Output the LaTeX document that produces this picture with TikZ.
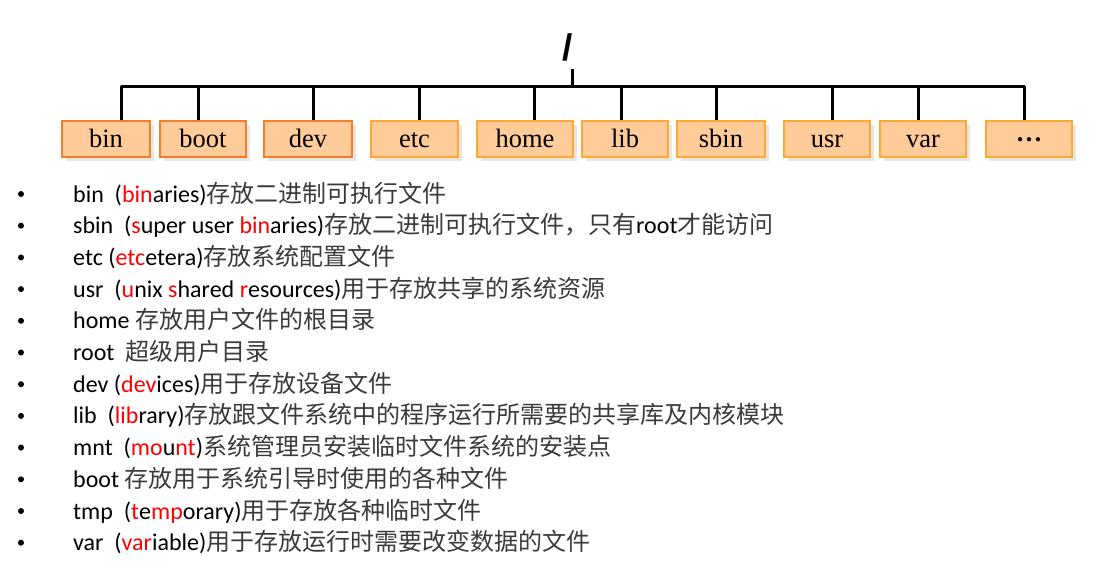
\documentclass[tikz,border=0pt]{standalone}
\usepackage{fontspec}
\newfontfamily\lat{Carlito}
\newfontfamily\cjk{Noto Sans CJK SC}
\newfontfamily\tms{Liberation Serif}
\newfontfamily\ari{Liberation Sans}
\usetikzlibrary{shadows}
\definecolor{boxfill}{HTML}{FFCC99}
\definecolor{edgeA}{HTML}{F47C2A}
\definecolor{edgeB}{HTML}{FFA733}
\definecolor{cjkgray}{HTML}{3A3A3A}
\definecolor{hl}{HTML}{FF0000}
\definecolor{shade}{HTML}{E6E6DE}
\newcommand\rd[1]{\textcolor{hl}{#1}}
\newcommand\zh[1]{{\cjk\color{cjkgray}#1}}
\begin{document}
\begin{tikzpicture}[x=1pt,y=-1pt,
  dirbox/.style={draw=edgeB, line width=1.2pt, fill=boxfill, minimum height=36pt, inner sep=0pt,
    text height=20pt, text depth=4pt,
    font=\tms\fontsize{26.5}{30}\selectfont,
    drop shadow={shadow xshift=4pt, shadow yshift=-4pt, fill=shade, opacity=1}},
  dirboxA/.style={dirbox, draw=edgeA},
  tree/.style={line width=3pt, black, line join=round},
  listline/.style={anchor=base west, inner sep=0pt, font=\lat\fontsize{24}{28}\selectfont},
  bulletdot/.style={circle, fill=black, inner sep=0pt, minimum size=6pt}]
\useasboundingbox (0,0) rectangle (1108,568);

% root
\node[inner sep=0pt, font=\ari\bfseries\fontsize{37}{40}\selectfont] (root) at (568,47) {/};
\coordinate (stemtop) at (572,69);

% directory boxes
\node[dirboxA, minimum width=88pt] (bin)  at (106,139)   {bin};
\node[dirboxA, minimum width=86pt] (boot) at (203,139)   {boot};
\node[dirboxA, minimum width=88pt] (dev)  at (308,139)   {dev};
\node[dirbox, minimum width=87pt]  (etc)  at (414.5,139) {etc};
\node[dirbox, minimum width=96pt]  (home) at (525,139)   {home};
\node[dirbox, minimum width=86pt]  (lib)  at (625,139)   {lib};
\node[dirbox, minimum width=88pt]  (sbin) at (721,139)   {sbin};
\node[dirbox, minimum width=86pt]  (usr)  at (827,139)   {usr};
\node[dirbox, minimum width=86pt]  (var)  at (923,139)   {var};
\node[dirbox, minimum width=86pt]  (dots) at (1029,139)  {\raisebox{6pt}{\bfseries …}};

% tree lines
\coordinate (barL) at (121,86);
\draw[tree] ([xshift=15pt]bin.north) -- (barL) -| ([xshift=-5pt]dots.north);
\draw[tree] (stemtop) -- (stemtop |- barL);
\draw[tree] ([xshift=-5pt]boot.north) -- ([xshift=-5pt]boot.north |- barL);
\draw[tree] ([xshift=5pt]dev.north) -- ([xshift=5pt]dev.north |- barL);
\draw[tree] ([xshift=4.5pt]etc.north) -- ([xshift=4.5pt]etc.north |- barL);
\draw[tree] ([xshift=9pt]home.north) -- ([xshift=9pt]home.north |- barL);
\draw[tree] ([xshift=-4pt]lib.north) -- ([xshift=-4pt]lib.north |- barL);
\draw[tree] ([xshift=-5pt]sbin.north) -- ([xshift=-5pt]sbin.north |- barL);
\draw[tree] ([xshift=5pt]usr.north) -- ([xshift=5pt]usr.north |- barL);
\draw[tree] ([xshift=-5pt]var.north) -- ([xshift=-5pt]var.north |- barL);

% bullets
\foreach \i in {1,...,12} {
  \node[bulletdot] (bul\i) at (21, {194+31.7*(\i-1)}) {};
}

% list lines
\node[listline] (l1)  at (73,202)   {bin\ \ (\rd{bin}aries)\zh{存放二进制可执行文件}};
\node[listline] (l2)  at (73,233.7) {sbin\ \ (\rd{s}uper user \rd{bin}aries)\zh{存放二进制可执行文件，只有}root\zh{才能访问}};
\node[listline] (l3)  at (73,265.4) {etc (\rd{etc}etera)\zh{存放系统配置文件}};
\node[listline] (l4)  at (73,297.1) {usr\ \ (\rd{u}nix \rd{s}hared \rd{r}esources)\zh{用于存放共享的系统资源}};
\node[listline] (l5)  at (73,328.8) {home \zh{存放用户文件的根目录}};
\node[listline] (l6)  at (73,360.5) {root\ \ \zh{超级用户目录}};
\node[listline] (l7)  at (73,392.2) {dev (\rd{dev}ices)\zh{用于存放设备文件}};
\node[listline] (l8)  at (73,423.9) {lib\ \ (\rd{lib}rary)\zh{存放跟文件系统中的程序运行所需要的共享库及内核模块}};
\node[listline] (l9)  at (73,455.6) {mnt\ \ (\rd{mo}u\rd{nt})\zh{系统管理员安装临时文件系统的安装点}};
\node[listline] (l10) at (73,487.3) {boot \zh{存放用于系统引导时使用的各种文件}};
\node[listline] (l11) at (73,519)   {tmp\ \ (\rd{t}e\rd{mp}orary)\zh{用于存放各种临时文件}};
\node[listline] (l12) at (73,550.7) {var\ \ (\rd{var}iable)\zh{用于存放运行时需要改变数据的文件}};
\end{tikzpicture}
\end{document}
